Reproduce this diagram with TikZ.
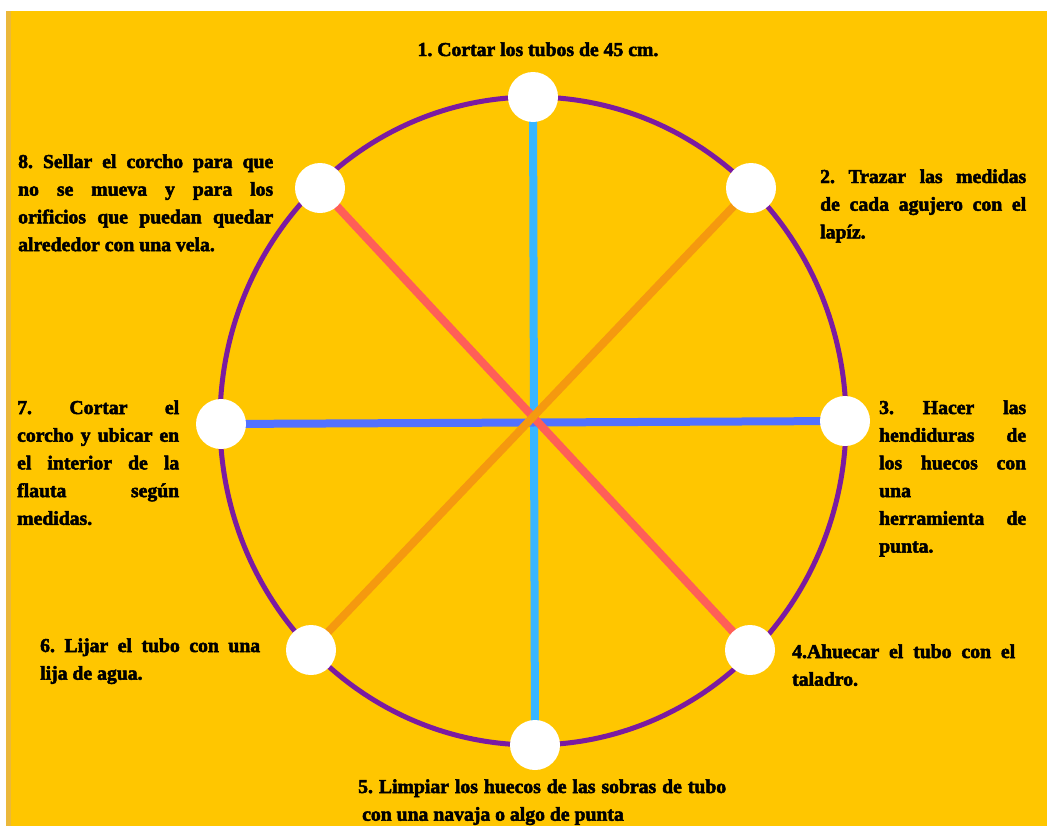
\documentclass[tikz,border=0pt]{standalone}
\usepackage{fontspec}
\newfontfamily\lab{Liberation Serif}[BoldFeatures={FakeBold=2.5}]
\definecolor{bgy}{HTML}{FFC600}
\definecolor{stripe}{HTML}{EBB83A}
\definecolor{purp}{HTML}{7B1BA1}
\definecolor{lblue}{HTML}{38B6FF}
\definecolor{dblue}{HTML}{5271FF}
\definecolor{salmon}{HTML}{FF5F57}
\definecolor{orng}{HTML}{F5990F}
\newcommand\jline[1]{\makebox[\linewidth][s]{#1}\par}
\pgfdeclarelayer{bg}
\pgfsetlayers{bg,main}
\frenchspacing
\begin{document}
\begin{tikzpicture}[x=1bp,y=-1bp,
  spoke/.style={line width=8bp},
  dot/.style={circle,fill=white,minimum size=50bp,inner sep=0pt},
  lbl/.style={inner sep=0pt,anchor=base west,font=\lab\bfseries\frenchspacing\fontsize{19.7bp}{27.7bp}\selectfont}]
\useasboundingbox (0,0) rectangle (1047,827);
% step circles
\node[dot] (n1) at (533,97) {};
\node[dot] (n2) at (751,188) {};
\node[dot] (n3) at (845,421) {};
\node[dot] (n4) at (750,650) {};
\node[dot] (n5) at (535,745) {};
\node[dot] (n6) at (311,650) {};
\node[dot] (n7) at (221,424) {};
\node[dot] (n8) at (320,188) {};
\begin{pgfonlayer}{bg}
  \fill[white] (0,0) rectangle (1047,827);
  \fill[bgy] (6,11) rectangle (1047,826);
  \fill[stripe] (6,11) rectangle (11,826);
  \draw[purp,line width=5bp] (533,421) ellipse [x radius=313, y radius=324];
  \draw[spoke,lblue] (n1.center) -- (n5.center);
  \draw[spoke,dblue] (n7.center) -- (n3.center);
  \draw[spoke,salmon] (n8.center) -- (n4.center);
  \draw[spoke,orng] (n2.center) -- (n6.center);
\end{pgfonlayer}
% labels
\node[lbl,anchor=base] (t1) at (538,56) {1. Cortar los tubos de 45 cm.};
\node[lbl] (t2) at (820,183) {\parbox[t]{206bp}{\jline{2. Trazar las medidas}\jline{de cada agujero con el}lapíz.}};
\node[lbl] (t3) at (879,414) {\parbox[t]{147bp}{\jline{3. Hacer las}\jline{hendiduras de}\jline{los huecos con}una\par\jline{herramienta de}punta.}};
\node[lbl] (t4) at (792,658) {\parbox[t]{223bp}{\jline{4.Ahuecar el tubo con el}taladro.}};
\node[lbl] (t5) at (358,793) {\parbox[t]{368bp}{\jline{5. Limpiar los huecos de las sobras de tubo}\hspace*{4bp}con una navaja o algo de punta}};
\node[lbl] (t6) at (40,652) {\parbox[t]{220bp}{\jline{6. Lijar el tubo con una}lija de agua.}};
\node[lbl] (t7) at (17,414) {\parbox[t]{162bp}{\jline{7. Cortar el}\jline{corcho y ubicar en}\jline{el interior de la}\jline{flauta según}medidas.}};
\node[lbl] (t8) at (18,168) {\parbox[t]{255bp}{\jline{8. Sellar el corcho para que}\jline{no se mueva y para los}\jline{orificios que puedan quedar}alrededor con una vela.}};
\end{tikzpicture}
\end{document}
